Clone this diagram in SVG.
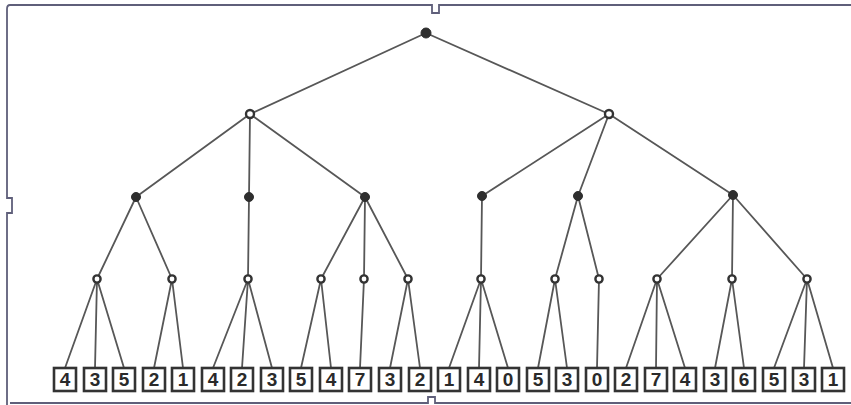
<svg xmlns="http://www.w3.org/2000/svg" width="851" height="405" viewBox="0 0 851 405">
<style>
.frame{fill:none;stroke:#5f5f7a;stroke-width:1.8}
.edge{stroke:#575757;stroke-width:1.8;fill:none}
.max{fill:#2e2e2e;stroke:#2e2e2e;stroke-width:1}
.min{fill:#fff;stroke:#333;stroke-width:2.4}
.leaf rect{fill:#fff;stroke:#333;stroke-width:2.6}
.leaf text{font-family:"Liberation Sans",Arial,sans-serif;font-weight:bold;font-size:19px;fill:#2a2a2a;text-anchor:middle}
</style>
<rect width="851" height="405" fill="#fff"/>
<g id="frame">
<path class="frame" d="M851,5 H439 V13 H432 V5 H10 Q7,5 7,9 V198 H12 V213 H7 V405"/>
<path class="frame" d="M10,403 H428 V397 H435 V403 H851"/>
</g>
<g id="connectors">
<path class="edge" d="M426,33 L250,114 M426,33 L609,114"/>
<path class="edge" d="M250,114 L136,197 M250,114 L249,197 M250,114 L365,197"/>
<path class="edge" d="M609,114 L482,196 M609,114 L578,196 M609,114 L733,195"/>
<path class="edge" d="M136,197 L97,279 M136,197 L172,279 M249,197 L248,279 M365,197 L321,279 M365,197 L364,279 M365,197 L408,279"/>
<path class="edge" d="M482,196 L481,279 M578,196 L555,279 M578,196 L599,279 M733,195 L657,279 M733,195 L732,279 M733,195 L807,279"/>
<path class="edge" d="M97,279 L65,368 M97,279 L95,368 M97,279 L124,368 M172,279 L154,368 M172,279 L183,368"/>
<path class="edge" d="M248,279 L213,368 M248,279 L242,368 M248,279 L272,368 M321,279 L301,368 M321,279 L331,368 M364,279 L360,368 M408,279 L390,368 M408,279 L420,368"/>
<path class="edge" d="M481,279 L449,368 M481,279 L479,368 M481,279 L508,368 M555,279 L538,368 M555,279 L567,368 M599,279 L597,368"/>
<path class="edge" d="M657,279 L626,368 M657,279 L656,368 M657,279 L685,368 M732,279 L715,368 M732,279 L744,368 M807,279 L774,368 M807,279 L804,368 M807,279 L833,368"/>
</g>
<g id="root"><circle class="max" cx="426" cy="33" r="5"/></g>
<g id="n1a"><circle class="min" cx="250" cy="114" r="4"/></g>
<g id="n1b"><circle class="min" cx="609" cy="114" r="4"/></g>
<g id="n2a"><circle class="max" cx="136" cy="197" r="4.5"/></g>
<g id="n2b"><circle class="max" cx="249" cy="197" r="4.5"/></g>
<g id="n2c"><circle class="max" cx="365" cy="197" r="4.5"/></g>
<g id="n2d"><circle class="max" cx="482" cy="196" r="4.5"/></g>
<g id="n2e"><circle class="max" cx="578" cy="196" r="4.5"/></g>
<g id="n2f"><circle class="max" cx="733" cy="195" r="4.5"/></g>
<g id="n3a"><circle class="min" cx="97" cy="279" r="3.6"/></g>
<g id="n3b"><circle class="min" cx="172" cy="279" r="3.6"/></g>
<g id="n3c"><circle class="min" cx="248" cy="279" r="3.6"/></g>
<g id="n3d"><circle class="min" cx="321" cy="279" r="3.6"/></g>
<g id="n3e"><circle class="min" cx="364" cy="279" r="3.6"/></g>
<g id="n3f"><circle class="min" cx="408" cy="279" r="3.6"/></g>
<g id="n3g"><circle class="min" cx="481" cy="279" r="3.6"/></g>
<g id="n3h"><circle class="min" cx="555" cy="279" r="3.6"/></g>
<g id="n3i"><circle class="min" cx="599" cy="279" r="3.6"/></g>
<g id="n3j"><circle class="min" cx="657" cy="279" r="3.6"/></g>
<g id="n3k"><circle class="min" cx="732" cy="279" r="3.6"/></g>
<g id="n3l"><circle class="min" cx="807" cy="279" r="3.6"/></g>
<g id="leaf0" class="leaf"><rect x="54" y="368" width="22" height="23"/><text x="65" y="386">4</text></g>
<g id="leaf1" class="leaf"><rect x="84" y="368" width="22" height="23"/><text x="95" y="386">3</text></g>
<g id="leaf2" class="leaf"><rect x="113" y="368" width="22" height="23"/><text x="124" y="386">5</text></g>
<g id="leaf3" class="leaf"><rect x="143" y="368" width="22" height="23"/><text x="154" y="386">2</text></g>
<g id="leaf4" class="leaf"><rect x="172" y="368" width="22" height="23"/><text x="183" y="386">1</text></g>
<g id="leaf5" class="leaf"><rect x="202" y="368" width="22" height="23"/><text x="213" y="386">4</text></g>
<g id="leaf6" class="leaf"><rect x="231" y="368" width="22" height="23"/><text x="242" y="386">2</text></g>
<g id="leaf7" class="leaf"><rect x="261" y="368" width="22" height="23"/><text x="272" y="386">3</text></g>
<g id="leaf8" class="leaf"><rect x="290" y="368" width="22" height="23"/><text x="301" y="386">5</text></g>
<g id="leaf9" class="leaf"><rect x="320" y="368" width="22" height="23"/><text x="331" y="386">4</text></g>
<g id="leaf10" class="leaf"><rect x="349" y="368" width="22" height="23"/><text x="360" y="386">7</text></g>
<g id="leaf11" class="leaf"><rect x="379" y="368" width="22" height="23"/><text x="390" y="386">3</text></g>
<g id="leaf12" class="leaf"><rect x="409" y="368" width="22" height="23"/><text x="420" y="386">2</text></g>
<g id="leaf13" class="leaf"><rect x="438" y="368" width="22" height="23"/><text x="449" y="386">1</text></g>
<g id="leaf14" class="leaf"><rect x="468" y="368" width="22" height="23"/><text x="479" y="386">4</text></g>
<g id="leaf15" class="leaf"><rect x="497" y="368" width="22" height="23"/><text x="508" y="386">0</text></g>
<g id="leaf16" class="leaf"><rect x="527" y="368" width="22" height="23"/><text x="538" y="386">5</text></g>
<g id="leaf17" class="leaf"><rect x="556" y="368" width="22" height="23"/><text x="567" y="386">3</text></g>
<g id="leaf18" class="leaf"><rect x="586" y="368" width="22" height="23"/><text x="597" y="386">0</text></g>
<g id="leaf19" class="leaf"><rect x="615" y="368" width="22" height="23"/><text x="626" y="386">2</text></g>
<g id="leaf20" class="leaf"><rect x="645" y="368" width="22" height="23"/><text x="656" y="386">7</text></g>
<g id="leaf21" class="leaf"><rect x="674" y="368" width="22" height="23"/><text x="685" y="386">4</text></g>
<g id="leaf22" class="leaf"><rect x="704" y="368" width="22" height="23"/><text x="715" y="386">3</text></g>
<g id="leaf23" class="leaf"><rect x="733" y="368" width="22" height="23"/><text x="744" y="386">6</text></g>
<g id="leaf24" class="leaf"><rect x="763" y="368" width="22" height="23"/><text x="774" y="386">5</text></g>
<g id="leaf25" class="leaf"><rect x="793" y="368" width="22" height="23"/><text x="804" y="386">3</text></g>
<g id="leaf26" class="leaf"><rect x="822" y="368" width="22" height="23"/><text x="833" y="386">1</text></g>
</svg>
